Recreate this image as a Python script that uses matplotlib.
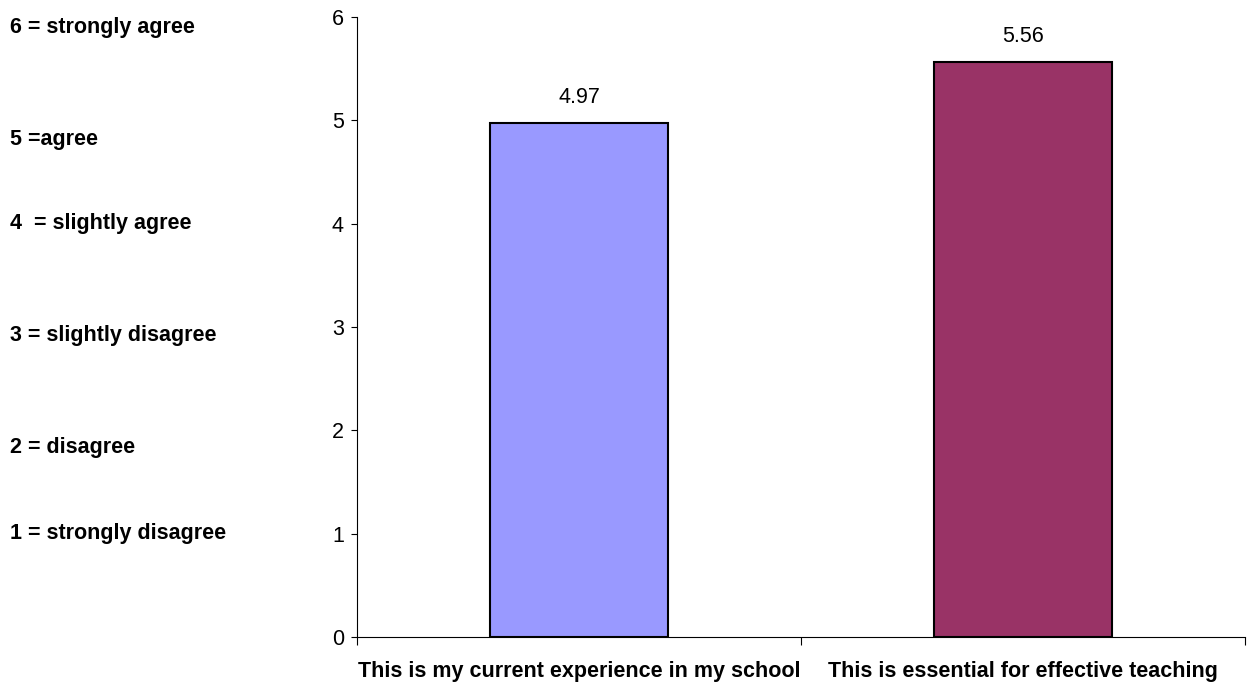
import matplotlib
matplotlib.use("Agg")
import matplotlib.pyplot as plt

plt.rcParams['font.family'] = ['Liberation Sans', 'DejaVu Sans']

categories = ["This is my current experience in my school", "This is essential for effective teaching"]
values = [4.97, 5.56]
colors = ["#9999FF", "#993366"]
value_labels = ["4.97", "5.56"]
scale_labels = ["6 = strongly agree", "5 =agree", "4  = slightly agree",
                "3 = slightly disagree", "2 = disagree", "1 = strongly disagree"]
scale_label_y = [27, 139, 223, 336, 448, 533]  # pixel rows (from top) of legend text

FS = 15.5
W, H = 1249, 685
fig = plt.figure(figsize=(W / 100, H / 100), dpi=100)
ax = fig.add_axes([357 / W, 1 - 637 / H, (1245 - 357) / W, (637 - 17) / H])

x = list(range(len(categories)))
bars = ax.bar(x, values, width=0.4, color=colors, edgecolor="black", linewidth=1.5, zorder=3)
ax.set_xlim(-0.5, len(categories) - 0.5)
ax.set_ylim(0, 6)
ax.set_yticks(range(0, 7))
ax.tick_params(axis='y', labelsize=FS, length=4.5, width=0.8, direction='out', pad=5)

ax.set_xticks([-0.5, 0.5, 1.5])
ax.set_xticklabels([])
ax.tick_params(axis='x', length=6, width=0.8, direction='out')
ax.set_xticks(x, minor=True)
ax.set_xticklabels(categories, minor=True, fontsize=FS, fontweight='bold')
ax.tick_params(axis='x', which='minor', length=0, pad=17)

for s in ['top', 'right']:
    ax.spines[s].set_visible(False)

for xi, v, lab in zip(x, values, value_labels):
    ax.annotate(lab, (xi, v), xytext=(0, 11), textcoords='offset points',
                ha='center', va='bottom', fontsize=FS)

for lab, py in zip(scale_labels, scale_label_y):
    fig.text(10 / W, 1 - py / H, lab, ha='left', va='center', fontsize=FS, fontweight='bold')

fig.savefig("out.png", dpi=100)
